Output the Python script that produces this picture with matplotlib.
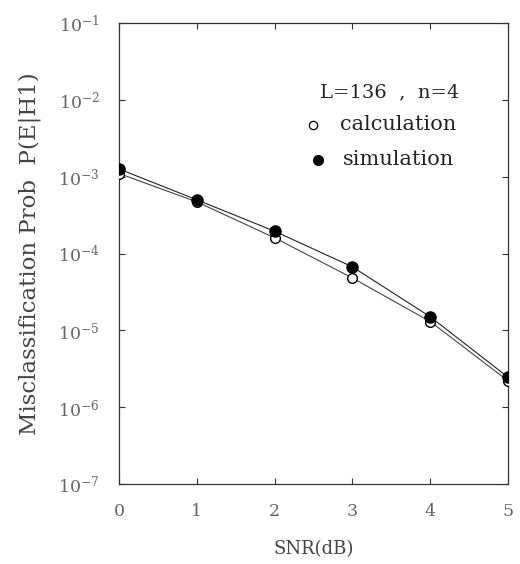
import matplotlib
matplotlib.use("Agg")
import matplotlib.pyplot as plt
import numpy as np

snr = [0, 1, 2, 3, 4, 5]
calc = [1.1e-3, 4.7e-4, 1.6e-4, 4.8e-5, 1.3e-5, 2.2e-6]
sim = [1.26e-3, 5.0e-4, 1.95e-4, 6.7e-5, 1.5e-5, 2.45e-6]
yticks = [1e-7, 1e-6, 1e-5, 1e-4, 1e-3, 1e-2, 1e-1]
ytick_labels = [r"$10^{-7}$", r"$10^{-6}$", r"$10^{-5}$", r"$10^{-4}$",
                r"$10^{-3}$", r"$10^{-2}$", r"$10^{-1}$"]

plt.rcParams['font.family'] = ['DejaVu Serif']
plt.rcParams['mathtext.fontset'] = 'dejavuserif'

fig = plt.figure(figsize=(5.2, 5.64), dpi=100)
ax = fig.add_axes([0.229, 0.142, 0.748, 0.817])

ax.plot(snr, calc, '-', color='#444444', lw=0.8, marker='o', ms=7,
        mfc='white', mec='black', mew=1.0, zorder=3)
ax.plot(snr, sim, '-', color='#222222', lw=0.8, marker='o', ms=8,
        mfc='black', mec='black', zorder=4)

ax.set_yscale('log')
ax.set_xlim(0, 5)
ax.set_ylim(1e-7, 1e-1)
ax.set_yticks(yticks)
ax.set_yticklabels(ytick_labels)
ax.yaxis.set_minor_locator(matplotlib.ticker.NullLocator())
ax.set_xticks(snr)
ax.set_xticklabels([str(v) for v in snr])
ax.tick_params(direction='in', length=4, width=0.8, top=True, right=True,
               labelsize=12.5, colors='#333333', labelcolor='#666666')
ax.tick_params(axis='y', pad=14)
ax.tick_params(axis='x', pad=14)
for s in ax.spines.values():
    s.set_linewidth(0.9)
    s.set_color('#333333')

ax.set_xlabel('SNR(dB)', fontsize=13, color='#444444', labelpad=14)
ax.set_ylabel('Misclassification Prob  P(E|H1)', fontsize=16.5, color='#444444',
              labelpad=12)

ax.text(0.517, 0.850, 'L=136  ,  n=4', transform=ax.transAxes, fontsize=14,
        color='#222222', ha='left', va='center')
ax.plot([0.499], [0.779], transform=ax.transAxes, marker='o', ms=6, mfc='white',
        mec='black', mew=0.9, ls='none', clip_on=False)
ax.text(0.568, 0.779, 'calculation', transform=ax.transAxes, fontsize=15,
        color='#222222', ha='left', va='center')
ax.plot([0.512], [0.703], transform=ax.transAxes, marker='o', ms=7, mfc='black',
        mec='black', ls='none', clip_on=False)
ax.text(0.576, 0.703, 'simulation', transform=ax.transAxes, fontsize=15,
        color='#222222', ha='left', va='center')

fig.savefig('out.png', dpi=100)
